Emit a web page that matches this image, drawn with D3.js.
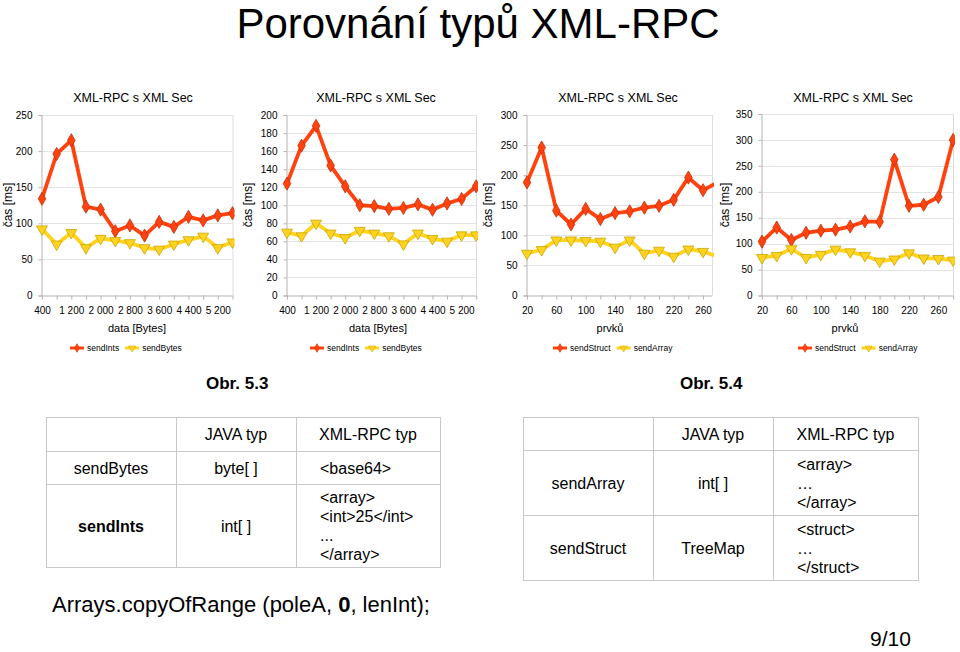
<!DOCTYPE html>
<html>
<head>
<meta charset="utf-8">
<script src="https://cdn.jsdelivr.net/npm/d3@7"></script>
<style>
  body { margin: 0; background: #fff; }
  text { font-family: "Liberation Sans", Arial, sans-serif; fill: #000; }
</style>
</head>
<body>
<script>
var svgWidth = 960;
var svgHeight = 652;

// categories
var bytesCats = [400, 800, 1200, 1600, 2000, 2400, 2800, 3200, 3600, 4000, 4400, 4800, 5200, 5600];
var prvkyCats = [20, 40, 60, 80, 100, 120, 140, 160, 180, 200, 220, 240, 260, 280];

// series values (ms)
var c1Ints  = [134, 196, 215, 123, 119, 89, 97, 83, 102, 95, 109, 104, 111, 114];
var c1Bytes = [92, 71, 87, 66, 79, 76, 73, 66, 64, 71, 77, 82, 66, 74];
var c2Ints  = [124, 166, 188, 144, 121, 100, 99, 96, 97, 101, 95, 102, 107, 121];
var c2Bytes = [70, 66, 80, 69, 64, 72, 69, 66, 57, 69, 63, 60, 67, 67];
var c3Struct = [188, 246, 141, 118, 144, 127, 137, 140, 146, 149, 159, 196, 175, 188];
var c3Array  = [70, 76, 92, 92, 91, 90, 80, 92, 70, 75, 65, 77, 73, 65];
var c4Struct = [104, 131, 107, 121, 125, 127, 133, 143, 142, 262, 173, 175, 190, 300];
var c4Array  = [73, 77, 90, 73, 79, 89, 84, 77, 66, 70, 82, 72, 71, 68];

// tick labels
var yTicks1 = [0, 50, 100, 150, 200, 250];
var yTicks2 = [0, 20, 40, 60, 80, 100, 120, 140, 160, 180, 200];
var yTicks3 = [0, 50, 100, 150, 200, 250, 300];
var yTicks4 = [0, 50, 100, 150, 200, 250, 300, 350];

// tables
var tableHead = ["", "JAVA typ", "XML-RPC typ"];
var leftRows = [
  ["sendBytes", "byte[ ]", ["<base64>"]],
  ["sendInts", "int[ ]", ["<array>", "<int>25</int>", "...", "</array>"]]
];
var rightRows = [
  ["sendArray", "int[ ]", ["<array>", "…", "</array>"]],
  ["sendStruct", "TreeMap", ["<struct>", "…", "</struct>"]]
];

var red = "#ff420e", redDark = "#c4300a";
var yel = "#ffd320", yelDark = "#c9a400";

var fmt = d3.formatLocale({decimal: ",", thousands: " ", grouping: [3], currency: ["", ""]}).format(",");

var svg = d3.select("body").append("svg")
  .attr("width", svgWidth)
  .attr("height", svgHeight);

svg.append("rect").attr("width", svgWidth).attr("height", svgHeight).attr("fill", "#fff");

svg.append("text")
  .attr("x", 478).attr("y", 38)
  .attr("text-anchor", "middle")
  .style("font-size", "42px")
  .text("Porovnání typů XML-RPC");

function marker(kind) {
  if (kind == "diamond") return d3.symbol(d3.symbolDiamond, 50)();
  return d3.symbol(d3.symbolTriangle, 52)();
}

function drawChart(cfg) {
  var g = svg.append("g");
  var x = d3.scalePoint().domain(cfg.cats).range([cfg.x0, cfg.x0 + (cfg.cats.length - 1) * cfg.step]);
  var y = d3.scaleLinear().domain([0, cfg.ticks[cfg.ticks.length - 1]]).range([295.5, cfg.top]);
  var right = cfg.right;

  g.append("text")
    .attr("x", cfg.tcx).attr("y", 102)
    .attr("text-anchor", "middle")
    .style("font-size", "12.5px")
    .text("XML-RPC s XML Sec");

  // grid
  g.selectAll(".grid").data(cfg.ticks.slice(1)).enter().append("line")
    .attr("x1", cfg.x0).attr("x2", right)
    .attr("y1", d => Math.round(y(d)) + 0.5).attr("y2", d => Math.round(y(d)) + 0.5)
    .attr("stroke", "#e3e3e3");
  g.append("line")
    .attr("x1", right + 0.5).attr("x2", right + 0.5)
    .attr("y1", cfg.top).attr("y2", 295.5)
    .attr("stroke", "#dcdcdc");

  var leftAxis = d3.axisLeft(y).tickValues(cfg.ticks).tickSize(3).tickPadding(6);
  var ya = g.append("g").attr("transform", `translate(${cfg.x0 - 0.5},0)`).call(leftAxis);

  var bottomAxis = d3.axisBottom(x).tickSize(4).tickPadding(7)
    .tickFormat((d, i) => (i % 2 == 0 && !(cfg.skipLast && i == cfg.cats.length - 1)) ? fmt(d) : "");
  var xa = g.append("g").attr("transform", "translate(0,295.5)").call(bottomAxis);
  xa.selectAll(".tick").filter(d => x(d) > right + 1).remove();
  xa.select(".domain").attr("d", `M${cfg.x0},0.5H${right}`);

  [ya, xa].forEach(function(a) {
    a.select(".domain").attr("stroke", "#b3b3b3");
    a.selectAll(".tick line").attr("stroke", "#b3b3b3");
    a.selectAll(".tick text").style("font-size", "10px").style("font-family", "Liberation Sans, Arial, sans-serif").attr("fill", "#000");
  });

  g.append("text")
    .attr("transform", `translate(${cfg.ylx},205) rotate(-90)`)
    .attr("text-anchor", "middle")
    .style("font-size", "12px")
    .text("čas [ms]");

  g.append("text")
    .attr("x", cfg.xlx).attr("y", 332)
    .attr("text-anchor", "middle")
    .style("font-size", "11px")
    .text(cfg.xlabel);

  var clipId = "clip" + cfg.id;
  svg.append("clipPath").attr("id", clipId).append("rect")
    .attr("x", cfg.x0 - 10).attr("y", 0).attr("width", right - cfg.x0 + 12).attr("height", 310);

  var plot = g.append("g").attr("clip-path", `url(#${clipId})`);
  var line = d3.line().x((d, i) => x(cfg.cats[i])).y(d => y(d));

  cfg.series.forEach(function(s) {
    plot.append("path")
      .datum(s.values)
      .attr("fill", "none")
      .attr("stroke", s.color)
      .attr("stroke-width", 3.8)
      .attr("stroke-linejoin", "round")
      .attr("d", line);
  });
  cfg.series.forEach(function(s) {
    plot.selectAll(null).data(s.values).enter().append("path")
      .attr("d", marker(s.shape))
      .attr("transform", (d, i) => `translate(${x(cfg.cats[i])},${y(d)})` + (s.shape == "diamond" ? "" : " rotate(180)"))
      .attr("fill", s.color)
      .attr("stroke", s.dark)
      .attr("stroke-width", 0.8)
      .style("display", (d, i) => x(cfg.cats[i]) > right + 1 ? "none" : null);
  });

  // legend
  var lg = g.append("g");
  var lx = cfg.lx;
  cfg.series.forEach(function(s) {
    lg.append("line").attr("x1", lx).attr("x2", lx + 14).attr("y1", 348).attr("y2", 348)
      .attr("stroke", s.color).attr("stroke-width", 3);
    lg.append("path").attr("d", d3.symbol(s.shape == "diamond" ? d3.symbolDiamond : d3.symbolTriangle, 22)())
      .attr("transform", `translate(${lx + 7},348)` + (s.shape == "diamond" ? "" : " rotate(180)"))
      .attr("fill", s.color).attr("stroke", s.dark).attr("stroke-width", 0.5);
    var t = lg.append("text").attr("x", lx + 17).attr("y", 351)
      .style("font-size", "8.5px").text(s.name);
    lx += 17 + t.node().getComputedTextLength() + 6;
  });
}

drawChart({id: 1, cats: bytesCats, x0: 42, step: 14.65, right: 232.5, top: 115, ticks: yTicks1,
  tcx: 133, ylx: 12, xlx: 137, xlabel: "data [Bytes]", lx: 70,
  series: [{name: "sendInts", values: c1Ints, color: red, dark: redDark, shape: "diamond"},
           {name: "sendBytes", values: c1Bytes, color: yel, dark: yelDark, shape: "triangle"}]});

drawChart({id: 2, cats: bytesCats, x0: 287, step: 14.55, right: 476, top: 115, ticks: yTicks2,
  tcx: 376, ylx: 252, xlx: 378, xlabel: "data [Bytes]", lx: 310,
  series: [{name: "sendInts", values: c2Ints, color: red, dark: redDark, shape: "diamond"},
           {name: "sendBytes", values: c2Bytes, color: yel, dark: yelDark, shape: "triangle"}]});

drawChart({id: 3, cats: prvkyCats, x0: 527, step: 14.67, right: 712, top: 115, ticks: yTicks3,
  tcx: 618, ylx: 492, xlx: 610, xlabel: "prvků", lx: 553,
  series: [{name: "sendStruct", values: c3Struct, color: red, dark: redDark, shape: "diamond"},
           {name: "sendArray", values: c3Array, color: yel, dark: yelDark, shape: "triangle"}]});

drawChart({id: 4, cats: prvkyCats, x0: 762, step: 14.7, right: 953, top: 114, ticks: yTicks4, skipLast: true,
  tcx: 853, ylx: 729, xlx: 845, xlabel: "prvků", lx: 798,
  series: [{name: "sendStruct", values: c4Struct, color: red, dark: redDark, shape: "diamond"},
           {name: "sendArray", values: c4Array, color: yel, dark: yelDark, shape: "triangle"}]});

svg.append("text").attr("x", 206).attr("y", 389).style("font-size", "17px").style("font-weight", "bold").text("Obr. 5.3");
svg.append("text").attr("x", 680).attr("y", 389).style("font-size", "17px").style("font-weight", "bold").text("Obr. 5.4");

function drawTable(cols, rowsY, rows, codeX, boldFirst) {
  var g = svg.append("g");
  var x0 = cols[0], x1 = cols[cols.length - 1];
  var y0 = rowsY[0], y1 = rowsY[rowsY.length - 1];
  g.append("rect").attr("x", x0 + 0.5).attr("y", y0 + 0.5).attr("width", x1 - x0).attr("height", y1 - y0)
    .attr("fill", "none").attr("stroke", "#c8c8c8");
  cols.slice(1, -1).forEach(function(c) {
    g.append("line").attr("x1", c + 0.5).attr("x2", c + 0.5).attr("y1", y0).attr("y2", y1).attr("stroke", "#c8c8c8");
  });
  rowsY.slice(1, -1).forEach(function(r) {
    g.append("line").attr("x1", x0).attr("x2", x1).attr("y1", r + 0.5).attr("y2", r + 0.5).attr("stroke", "#c8c8c8");
  });
  var all = [tableHead].concat(rows);
  all.forEach(function(row, ri) {
    var cy = (rowsY[ri] + rowsY[ri + 1]) / 2;
    for (var ci = 0; ci < 2; ci++) {
      g.append("text")
        .attr("x", (cols[ci] + cols[ci + 1]) / 2).attr("y", cy + 6)
        .attr("text-anchor", "middle")
        .style("font-size", "16px")
        .style("font-weight", boldFirst == ri && ci == 0 ? "bold" : "normal")
        .text(row[ci]);
    }
    var code = row[2];
    if (ri == 0) {
      g.append("text").attr("x", (cols[2] + cols[3]) / 2).attr("y", cy + 6)
        .attr("text-anchor", "middle").style("font-size", "16px").text(code);
    } else {
      var lh = 19;
      var top = cy - (code.length - 1) * lh / 2;
      code.forEach(function(l, li) {
        g.append("text").attr("x", codeX).attr("y", top + li * lh + 6)
          .style("font-size", "16px").text(l);
      });
    }
  });
}

drawTable([46, 176, 296, 440], [417, 451, 484, 567], leftRows, 320, 2);
drawTable([523, 653, 773, 918], [417, 450, 515, 580], rightRows, 797, -1);

var code = svg.append("text").attr("x", 52).attr("y", 612).style("font-size", "22px");
code.append("tspan").text("Arrays.copyOfRange (poleA, ");
code.append("tspan").style("font-weight", "bold").text("0");
code.append("tspan").text(", lenInt);");

svg.append("text").attr("x", 870).attr("y", 646).style("font-size", "21px").text("9/10");
</script>
</body>
</html>
